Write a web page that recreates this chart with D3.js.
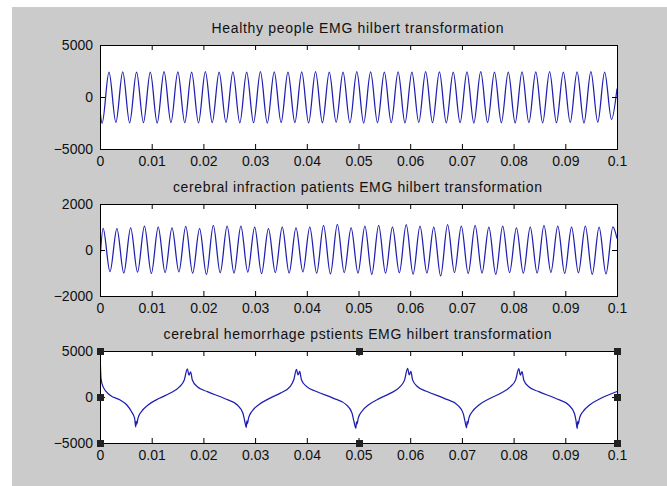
<!DOCTYPE html>
<html>
<head>
<meta charset="utf-8">
<script src="https://cdn.jsdelivr.net/npm/d3@7"></script>
<style>
  html, body { margin: 0; padding: 0; background: #ffffff; }
  svg { display: block; }
</style>
</head>
<body>
<svg id="fig" width="667" height="486"></svg>
<script>
// ---- data -----------------------------------------------------------------
const xTicks = [0, 0.01, 0.02, 0.03, 0.04, 0.05, 0.06, 0.07, 0.08, 0.09, 0.1];
const xTickLabels = ["0", "0.01", "0.02", "0.03", "0.04", "0.05", "0.06", "0.07", "0.08", "0.09", "0.1"];

const healthyYTicks = [-5000, 0, 5000];
const infarctionYTicks = [-2000, 0, 2000];
const hemorrhageYTicks = [-5000, 0, 5000];

const panelTitles = [
  "Healthy people EMG hilbert transformation",
  "cerebral infraction patients EMG hilbert transformation",
  "cerebral hemorrhage pstients EMG hilbert transformation"
];

// healthy subject: turning points of the hilbert-transformed EMG (s, value)
const healthyTime = [
  0, 0.00041,
  0.00174, 0.00307, 0.00440, 0.00573, 0.00707, 0.00840, 0.00973, 0.01106,
  0.01239, 0.01372, 0.01506, 0.01639, 0.01772, 0.01905, 0.02038, 0.02171,
  0.02304, 0.02437, 0.02571, 0.02704, 0.02837, 0.02970, 0.03103, 0.03236,
  0.03370, 0.03503, 0.03636, 0.03769, 0.03902, 0.04035, 0.04169, 0.04302,
  0.04435, 0.04568, 0.04701, 0.04834, 0.04967, 0.05100, 0.05234, 0.05367,
  0.05500, 0.05633, 0.05766, 0.05899, 0.06033, 0.06166, 0.06299, 0.06432,
  0.06565, 0.06698, 0.06832, 0.06965, 0.07098, 0.07231, 0.07364, 0.07497,
  0.07630, 0.07763, 0.07897, 0.08030, 0.08163, 0.08296, 0.08429, 0.08562,
  0.08696, 0.08829, 0.08962, 0.09095, 0.09228, 0.09361, 0.09495, 0.09628,
  0.09761, 0.09894,
  0.1
];
const healthyValue = [
  -1300, -2520,
  2380, -2440, 2420, -2480, 2400, -2460, 2390, -2500,
  2430, -2450, 2410, -2470, 2380, -2490, 2440, -2460,
  2400, -2440, 2420, -2480, 2390, -2470, 2430, -2500,
  2410, -2450, 2380, -2460, 2420, -2490, 2450, -2470,
  2400, -2440, 2390, -2480, 2430, -2500, 2410, -2460,
  2380, -2470, 2420, -2490, 2400, -2450, 2440, -2470,
  2410, -2480, 2390, -2460, 2420, -2500, 2430, -2450,
  2400, -2470, 2380, -2490, 2420, -2460, 2410, -2480,
  2440, -2470, 2390, -2450, 2420, -2500, 2430, -2420,
  2400, -2150,
  800
];

// cerebral infarction patient
const infarctionTime = [
  0,
  0.00060, 0.00193, 0.00327, 0.00460, 0.00593, 0.00726, 0.00860, 0.00993,
  0.01126, 0.01259, 0.01393, 0.01526, 0.01659, 0.01792, 0.01926, 0.02059,
  0.02192, 0.02325, 0.02459, 0.02592, 0.02725, 0.02858, 0.02992, 0.03125,
  0.03258, 0.03391, 0.03525, 0.03658, 0.03791, 0.03924, 0.04058, 0.04191,
  0.04324, 0.04457, 0.04591, 0.04724, 0.04857, 0.04990, 0.05124, 0.05257,
  0.05390, 0.05523, 0.05657, 0.05790, 0.05923, 0.06056, 0.06190, 0.06323,
  0.06456, 0.06589, 0.06723, 0.06856, 0.06989, 0.07122, 0.07256, 0.07389,
  0.07522, 0.07655, 0.07789, 0.07922, 0.08055, 0.08188, 0.08322, 0.08455,
  0.08588, 0.08721, 0.08855, 0.08988, 0.09121, 0.09254, 0.09388, 0.09521,
  0.09654, 0.09787, 0.09921,
  0.1
];
const infarctionValue = [
  -450,
  940, -940, 930, -1000, 960, -960, 1040, -1020,
  1000, -980, 960, -950, 1030, -1010, 930, -1060,
  1070, -990, 1040, -1000, 1040, -960, 1000, -1030,
  930, -980, 1000, -1000, 960, -950, 1000, -1010,
  1070, -1040, 1110, -980, 960, -1000, 1040, -1060,
  1070, -1010, 1000, -990, 1100, -1050, 1040, -1000,
  1000, -1130, 1100, -980, 1040, -1020, 1070, -1000,
  1000, -1060, 1040, -980, 960, -1010, 1000, -1000,
  1070, -970, 1040, -1020, 1000, -990, 1040, -1060,
  1000, -1040, 1010,
  500
];

// cerebral hemorrhage patient
const hemorrhageTime = [
  0, 0.00020, 0.00060, 0.00190, 0.00390, 0.00520, 0.00610, 0.00670,
  0.00690, 0.00700, 0.00710, 0.00735, 0.00800, 0.00930, 0.01150, 0.01350, 0.01540, 0.01630,
  0.01690, 0.01721, 0.01753, 0.01786, 0.01883, 0.02077, 0.02398, 0.02657, 0.02765, 0.02795,
  0.02830, 0.02840, 0.02850, 0.02875, 0.02940, 0.03070, 0.03290, 0.03490, 0.03680, 0.03750,
  0.03800, 0.03831, 0.03863, 0.03896, 0.03993, 0.04187, 0.04508, 0.04767, 0.04875, 0.04905,
  0.04950, 0.04960, 0.04970, 0.04995, 0.05060, 0.05190, 0.05410, 0.05610, 0.05800, 0.05890,
  0.05950, 0.05981, 0.06013, 0.06046, 0.06143, 0.06337, 0.06658, 0.06917, 0.07025, 0.07055,
  0.07090, 0.07100, 0.07110, 0.07135, 0.07200, 0.07330, 0.07550, 0.07750, 0.07940, 0.08040,
  0.08100, 0.08131, 0.08163, 0.08196, 0.08293, 0.08487, 0.08808, 0.09067, 0.09175, 0.09205,
  0.09230, 0.09240, 0.09250, 0.09275, 0.09340, 0.09470, 0.09690,
  0.1
];
const hemorrhageValue = [
  5000, 2000, 1100, 220, -330, -870, -1600, -2320,
  -3250, -2650, -2950, -2300, -1600, -870, -140, 400, 1120, 1850,
  3050, 2380, 2740, 1850, 1120, 580, -140, -870, -1770, -2500,
  -3300, -2600, -2900, -2250, -1550, -850, -120, 420, 1150, 1900,
  3000, 2400, 2780, 1880, 1150, 600, -120, -850, -1750, -2480,
  -3400, -2700, -2950, -2300, -1600, -880, -150, 390, 1100, 1830,
  3100, 2400, 2780, 1860, 1120, 570, -150, -880, -1780, -2520,
  -3350, -2650, -2950, -2300, -1600, -870, -130, 410, 1130, 1860,
  3080, 2380, 2760, 1850, 1120, 580, -140, -870, -1770, -2500,
  -3420, -2650, -2950, -2300, -1600, -870, -140,
  600
];

// ---- layout ---------------------------------------------------------------
const W = 667, H = 486;
const left = 100, right = 617;
const panels = [
  { title: panelTitles[0], time: healthyTime, value: healthyValue, yTicks: healthyYTicks, top: 45, bottom: 149, titleWidth: 292, selected: false },
  { title: panelTitles[1], time: infarctionTime, value: infarctionValue, yTicks: infarctionYTicks, top: 204, bottom: 296, titleWidth: 369, selected: false },
  { title: panelTitles[2], time: hemorrhageTime, value: hemorrhageValue, yTicks: hemorrhageYTicks, top: 351, bottom: 443, titleWidth: 388, selected: true }
];

const FONT = "'Liberation Sans', Arial, Helvetica, sans-serif";
const svg = d3.select("#fig");

// figure background
svg.append("rect")
  .attr("x", 12).attr("y", 7)
  .attr("width", W - 12).attr("height", H - 7)
  .attr("fill", "#cbcbcb");

const x = d3.scaleLinear().domain([0, 0.1]).range([left, right]);

panels.forEach((p, idx) => {
  const yExt = d3.extent(p.yTicks);
  const y = d3.scaleLinear().domain(yExt).range([p.bottom, p.top]);
  const g = svg.append("g");

  // axes area
  g.append("rect")
    .attr("x", left).attr("y", p.top)
    .attr("width", right - left).attr("height", p.bottom - p.top)
    .attr("fill", "#ffffff");

  // signal trace, clipped to the axes area
  const clipId = "clip" + idx;
  svg.append("clipPath").attr("id", clipId)
    .append("rect")
    .attr("x", left).attr("y", p.top)
    .attr("width", right - left + 1).attr("height", p.bottom - p.top + 1);

  const pts = p.time.map((t, i) => [t, p.value[i]]);
  const line = d3.line()
    .x(d => x(d[0]))
    .y(d => y(d[1]))
    .curve(d3.curveMonotoneX);

  g.append("path")
    .attr("d", line(pts))
    .attr("clip-path", `url(#${clipId})`)
    .attr("fill", "none")
    .attr("stroke", "#1e1eb0")
    .attr("stroke-width", 1.25)
    .attr("stroke-linejoin", "round");

  // box
  g.append("rect")
    .attr("x", left + 0.5).attr("y", p.top + 0.5)
    .attr("width", right - left).attr("height", p.bottom - p.top)
    .attr("fill", "none")
    .attr("stroke", "#000")
    .attr("stroke-width", 1);

  const styleAxis = sel => {
    sel.select(".domain").remove();
    sel.selectAll("line").attr("stroke", "#000");
    sel.selectAll("text")
      .attr("fill", "#111")
      .style("font-family", FONT)
      .style("font-size", "14px");
    sel.attr("font-family", null).attr("font-size", null);
  };

  // x axis (bottom, labelled) and top ticks
  g.append("g")
    .attr("transform", `translate(0,${p.bottom})`)
    .call(d3.axisBottom(x).tickValues(xTicks)
      .tickFormat((d, i) => xTickLabels[i])
      .tickSize(-5).tickPadding(7))
    .call(styleAxis);

  g.append("g")
    .attr("transform", `translate(0,${p.top})`)
    .call(d3.axisTop(x).tickValues(xTicks).tickFormat("").tickSize(-5))
    .call(styleAxis);

  // y axis (left, labelled) and right ticks
  g.append("g")
    .attr("transform", `translate(${left},0)`)
    .call(d3.axisLeft(y).tickValues(p.yTicks)
      .tickFormat(d3.format("d"))
      .tickSize(-5).tickPadding(7))
    .call(styleAxis);

  g.append("g")
    .attr("transform", `translate(${right},0)`)
    .call(d3.axisRight(y).tickValues(p.yTicks).tickFormat("").tickSize(-5))
    .call(styleAxis);

  // title
  g.append("text")
    .attr("x", (left + right) / 2 - 1)
    .attr("y", p.top - 12)
    .attr("text-anchor", "middle")
    .attr("textLength", p.titleWidth)
    .attr("lengthAdjust", "spacing")
    .style("font-family", FONT)
    .style("font-size", "14px")
    .attr("fill", "#111")
    .text(p.title);

  // selection handles of the active axes
  if (p.selected) {
    const hx = [x(0), x(0.05), x(0.1)];
    const hy = [y(yExt[1]), y(0), y(yExt[0])];
    const handles = [];
    hx.forEach((hxv, i) => hy.forEach((hyv, j) => {
      if (!(i === 1 && j === 1)) handles.push([hxv, hyv]);
    }));
    g.selectAll("rect.handle").data(handles).enter()
      .append("rect")
      .attr("class", "handle")
      .attr("x", d => Math.round(d[0]) - 3)
      .attr("y", d => Math.round(d[1]) - 3)
      .attr("width", 7).attr("height", 7)
      .attr("fill", "#222");
  }
});
</script>
</body>
</html>
